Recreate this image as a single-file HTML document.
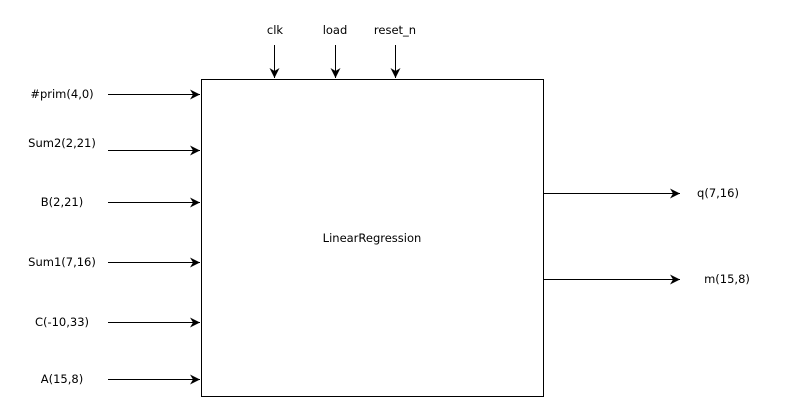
<!DOCTYPE html>
<html><head><style>
body{margin:0;background:#fff;}
svg text{font-family:"DejaVu Sans","Liberation Sans",sans-serif;font-size:11.5px;fill:#000;}
</style></head><body>
<svg width="790" height="413" viewBox="0 0 790 413" xmlns="http://www.w3.org/2000/svg">
<defs><marker id="a" markerWidth="12" markerHeight="10" refX="10" refY="5" orient="auto" markerUnits="userSpaceOnUse">
<path d="M0,0 L10,5 L0,10 L3,5 Z" fill="#000"/></marker></defs>
<rect x="201.5" y="79.5" width="342" height="317" fill="#fff" stroke="#000" stroke-width="1"/>
<text x="372" y="242" text-anchor="middle">LinearRegression</text>
<g stroke="#000" stroke-width="1" marker-end="url(#a)">
<line x1="108" y1="94.5" x2="200" y2="94.5"/>
<line x1="108" y1="150.5" x2="200" y2="150.5"/>
<line x1="108" y1="202.5" x2="200" y2="202.5"/>
<line x1="108" y1="262.5" x2="200" y2="262.5"/>
<line x1="108" y1="322.5" x2="200" y2="322.5"/>
<line x1="108" y1="379.5" x2="200" y2="379.5"/>
<line x1="274.5" y1="45" x2="274.5" y2="78"/>
<line x1="335.5" y1="45" x2="335.5" y2="78"/>
<line x1="395.5" y1="45" x2="395.5" y2="78"/>
<line x1="544" y1="193.5" x2="680" y2="193.5"/>
<line x1="544" y1="279.5" x2="680" y2="279.5"/>
</g>
<g text-anchor="middle">
<text x="62" y="98">#prim(4,0)</text>
<text x="62" y="147">Sum2(2,21)</text>
<text x="62" y="206">B(2,21)</text>
<text x="62" y="266">Sum1(7,16)</text>
<text x="62" y="326">C(-10,33)</text>
<text x="62" y="383">A(15,8)</text>
<text x="275" y="34">clk</text>
<text x="335" y="34">load</text>
<text x="395" y="34">reset_n</text>
<text x="718" y="197">q(7,16)</text>
<text x="727" y="283">m(15,8)</text>
</g>
</svg>
</body></html>
